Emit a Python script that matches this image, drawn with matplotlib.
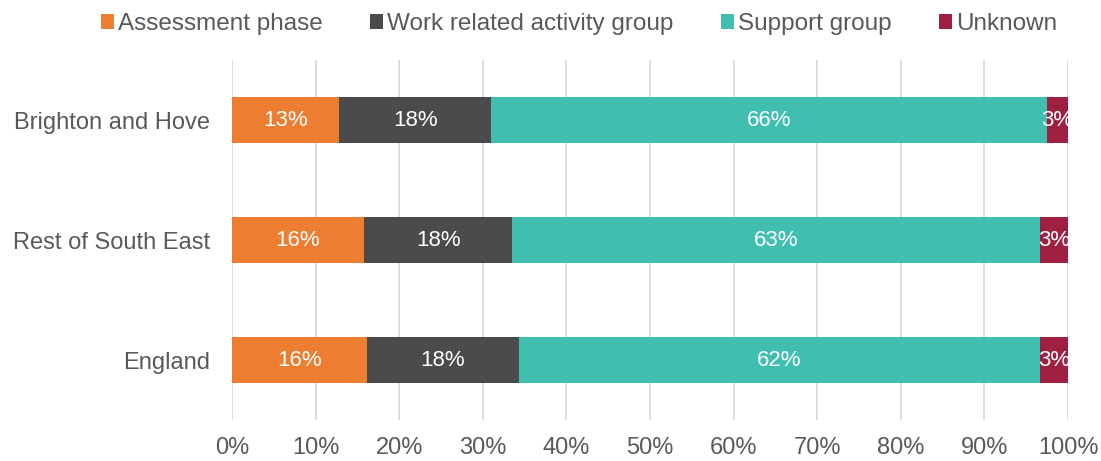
import numpy as np
import matplotlib.pyplot as plt

plt.rcParams['font.family'] = ['Liberation Sans', 'DejaVu Sans']

# Data
areas = ["Brighton and Hove", "Rest of South East", "England"]
series = ["Assessment phase", "Work related activity group", "Support group", "Unknown"]
assessment = [12.8, 15.8, 16.1]
work_related = [18.2, 17.7, 18.2]
support = [66.5, 63.2, 62.4]
unknown = [2.5, 3.3, 3.3]
labels = [
    ["13%", "16%", "16%"],
    ["18%", "18%", "18%"],
    ["66%", "63%", "62%"],
    ["3%", "3%", "3%"],
]
colors = ["#ED7D31", "#4B4B4B", "#40BFB0", "#9E1F40"]

fig = plt.figure(figsize=(11.01, 4.61), dpi=100)
ax = fig.add_axes([232 / 1101, 41 / 461, 836 / 1101, 360 / 461])

y = np.arange(len(areas))
left = np.zeros(len(areas))
for vals, name, col, labs in zip([assessment, work_related, support, unknown],
                                  series, colors, labels):
    vals = np.array(vals)
    ax.barh(y, vals, left=left, height=0.39, color=col, label=name, zorder=3)
    for yi, l, v, t in zip(y, left, vals, labs):
        ax.text(l + v / 2, yi, t, ha="center", va="center", color="white",
                fontsize=16, zorder=4)
    left += vals

ax.set_xlim(0, 100)
ax.set_ylim(2.5, -0.5)
ax.set_yticks(y)
ax.set_yticklabels(areas)
ax.set_xticks(np.arange(0, 101, 10))
ax.set_xticklabels([f"{v}%" for v in range(0, 101, 10)])
ax.tick_params(axis="both", length=0, labelsize=17, labelcolor="#595959")
ax.tick_params(axis="x", pad=12)
ax.tick_params(axis="y", pad=16)
ax.grid(axis="x", color="#D9D9D9", linewidth=1.3, zorder=0)
for s in ax.spines.values():
    s.set_visible(False)

ax.legend(loc="center", bbox_to_anchor=((579 - 232) / 836, 1.1),
          ncol=4, frameon=False, fontsize=17.5, handlelength=0.55, handleheight=0.55,
          handletextpad=0.15, columnspacing=1.95, labelcolor="#595959")

fig.savefig("out.png", dpi=100)
